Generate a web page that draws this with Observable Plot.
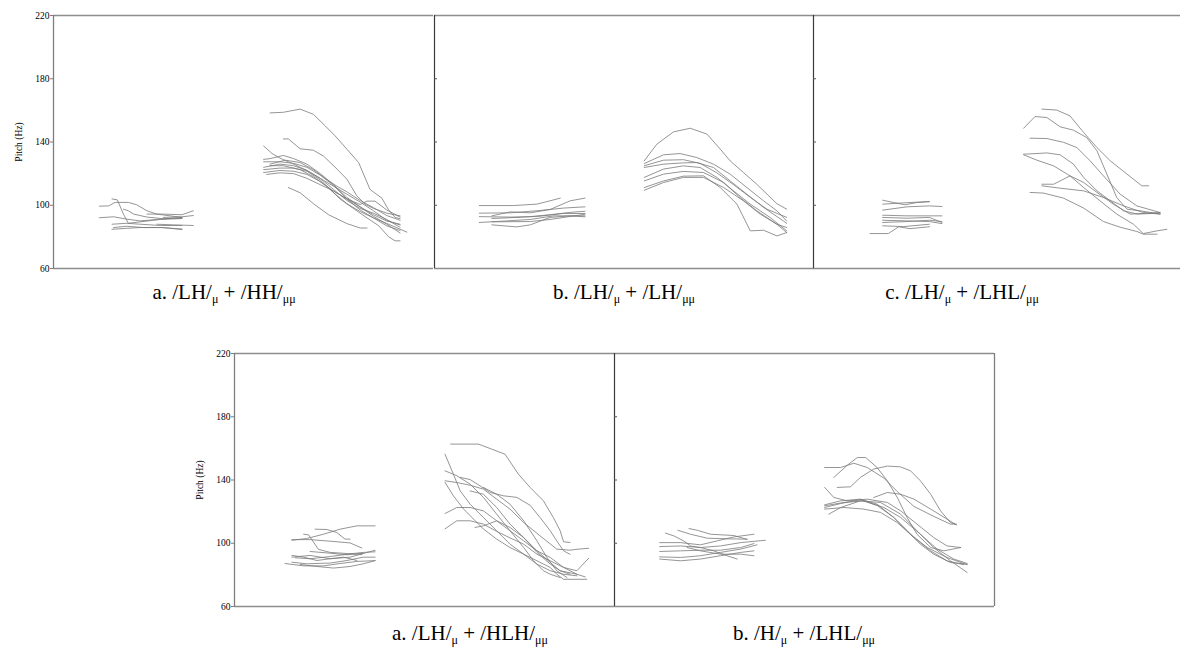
<!DOCTYPE html>
<html><head><meta charset="utf-8">
<script src="https://cdn.jsdelivr.net/npm/d3@7"></script>
<script src="https://cdn.jsdelivr.net/npm/@observablehq/plot@0.6"></script>
<style>
body{margin:0;background:#fff;}
#page{position:relative;width:1180px;height:660px;overflow:hidden;background:#fff;font-family:"Liberation Serif","Times New Roman",serif;}
.panel{position:absolute;}
.cap{position:absolute;font-size:21px;white-space:nowrap;transform:translateX(-50%);color:#000;line-height:24px;}
.cap sub{font-size:12px;vertical-align:-4px;line-height:0;}
</style></head><body><div id="page"></div>
<script>
// ---- axis ----
const yTicks = [60, 100, 140, 180, 220];
const yLabel = "Pitch (Hz)";

// ---- captions ----
const captionsTop = [
  ["a. /LH/", "μ", " + /HH/", "μμ"],
  ["b. /LH/", "μ", " + /LH/", "μμ"],
  ["c. /LH/", "μ", " + /LHL/", "μμ"]
];
const captionsBottom = [
  ["a. /LH/", "μ", " + /HLH/", "μμ"],
  ["b. /H/", "μ", " + /LHL/", "μμ"]
];

// ---- data: each contour = list of [normalized time, pitch Hz] ----
const topA_first = [
  [[12.1,99.4],[14.5,99.6],[16.2,101.8],[19.7,101.8],[21.9,100.3],[24.6,96.5],[27.2,94.4],[30.7,93.3],[33.8,92.3]],
  [[15.4,104],[16.8,103.4],[18.4,94.4],[19.7,88.6],[22.8,89.5],[28.1,91],[33.8,91.6]],
  [[12.1,92.1],[15.8,92.7],[19.3,91.2],[22.8,90.1],[28.1,91.2],[33.8,92.3]],
  [[18.4,97.5],[19.7,96.5],[21.1,94.4],[24.6,92.5],[28.9,91.5],[33.8,91.8]],
  [[15.4,88],[19.3,88.6],[22.8,88],[28.1,87.2],[33.8,87.2]],
  [[15.8,85.9],[19.3,86.7],[23.7,85.9],[28.9,85.9],[33.8,84.6]],
  [[15.4,84.8],[19.3,85.4],[22.8,85.9],[28.1,85.9],[33.8,85.0]],
  [[24.6,94.4],[28.9,94.4],[33.8,94],[36.8,96.5]],
  [[28.9,92.3],[33.8,92.7],[36.8,93.5]],
  [[27.2,88],[31.6,87.6],[36.8,87.2]]
];
const topA_second = [
  [[57.0,158.4],[60.5,158.8],[64.9,160.8],[68.4,157.5],[71.5,150.2],[74.1,143.9],[77.2,135.5],[80.3,127],[83.3,110],[86.4,104.5],[88.2,97],[89.9,92.3],[91.2,91.5]],
  [[60.5,141.9],[61.8,142],[64.9,135.7],[68.4,134.8],[71.1,131],[74.6,122.9],[77.2,116.5],[79.8,106],[82.0,100.7],[84.2,98],[87.7,95],[91.2,93.3]],
  [[55.3,137.5],[57.5,132.7],[59.6,129.8],[63.2,126],[66.7,122],[70.2,117],[73.7,112],[77.2,107],[80.7,102],[84.2,96.5],[87.7,90.5],[91.2,87.5]],
  [[55.3,129],[57.0,129.5],[60.5,131.5],[63.2,129.5],[66.7,126],[70.2,120],[73.7,113],[77.2,105],[80.7,99],[84.2,94],[87.7,90],[91.2,88]],
  [[55.3,127.5],[59.6,127.5],[63.2,126.5],[66.7,124],[70.2,119],[73.7,112.5],[77.2,104],[80.7,97],[84.2,92],[87.7,88.5],[93.0,83]],
  [[55.3,124],[59.6,126],[63.2,125],[66.7,122],[70.2,117],[73.7,110],[77.2,103],[80.7,98],[84.2,95],[87.7,91],[91.2,86]],
  [[55.3,122.5],[59.6,123.5],[63.2,123.5],[66.7,121.5],[70.2,116],[73.7,108],[77.2,101],[80.7,96],[84.2,92],[87.7,87],[91.2,84]],
  [[55.3,120.7],[59.6,122],[63.2,121.5],[66.7,119.5],[70.2,115],[73.7,109],[77.2,104],[80.7,100.5],[82.5,102.6],[84.6,102.6],[87.7,97],[91.2,92.5]],
  [[56.1,119.5],[59.6,120.5],[63.2,120],[66.7,117],[70.2,113],[73.7,109],[77.2,104],[80.7,99],[84.2,93],[87.7,88],[91.2,82.5]],
  [[57.0,125],[60.5,125],[64.9,122.5],[68.4,118],[72.4,111],[75.4,104],[78.9,98],[82.5,92],[85.6,87],[88.2,80],[89.9,77.5],[91.2,77.5]],
  [[61.8,111.2],[64.9,107.9],[68.4,101],[72.4,94],[77.2,88.4],[80.7,85.6],[82.5,85.6]],
  [[57.0,126],[61.0,128.5],[64.9,127],[68.4,122.5],[71.5,117],[74.6,112],[77.2,108.5],[80.7,103],[84.2,98.5],[87.7,93.5],[91.2,90.5]]
];
const topB_first = [
  [[11.8,99.8],[20.8,99.8],[26.9,100.7],[30.4,102.8],[33.1,104.5]],
  [[15.1,93.3],[19.9,95.8],[25.2,95.2],[30.4,97.3],[35.7,102.8],[39.6,104.5]],
  [[11.8,95],[19.9,95.2],[26.9,96.5],[33.9,98.2],[39.6,99]],
  [[11.8,89.1],[19.0,90.1],[25.2,91],[31.3,93.3],[39.6,93.3]],
  [[15.1,87.6],[21.7,86.3],[25.2,87.6],[30.4,92.3],[35.7,93.3],[39.6,92.7]],
  [[15.1,91.6],[21.7,92.3],[27.8,93.1],[33.9,94.8],[39.6,94.8]],
  [[11.8,92.8],[19.9,92.5],[25.2,92.8],[30.4,94],[35.7,95.5],[39.6,96.2]],
  [[15.1,89.5],[25.2,89.7],[30.4,91],[39.6,94.3]]
];
const topB_second = [
  [[55.2,128.1],[58.5,138.6],[62.9,146.4],[67.3,148.7],[71.7,145],[75.2,135.5],[77.8,128.1],[81.3,120.7],[84.8,113.3],[87.5,107],[90.1,101],[92.7,97.5]],
  [[55.2,126.4],[60.3,131.9],[64.6,132.7],[69.0,130.2],[73.4,126],[77.8,119.7],[82.2,111.2],[86.6,102.8],[90.1,96.5],[92.7,90]],
  [[55.2,123.9],[60.3,126],[65.5,126.8],[69.0,127],[73.4,123.9],[77.8,115.4],[82.2,107],[86.6,98.6],[91.8,90.1],[92.7,88.5]],
  [[55.2,117.6],[60.3,122.9],[65.5,124.9],[69.9,123.9],[74.3,117.6],[78.7,109.1],[83.1,100.7],[88.3,92.3],[92.7,83.8]],
  [[55.2,115.4],[60.3,119.7],[65.5,121.4],[70.8,120.7],[76.1,114.4],[80.4,104.9],[84.8,96.5],[90.1,88],[92.7,82.7]],
  [[55.2,111.2],[60.3,115.4],[65.5,118.4],[70.8,118.6],[75.2,111.2],[79.6,100.7],[83.1,83.8],[86.6,84.2],[90.1,80.6],[92.7,82.7]],
  [[55.2,109.5],[60.3,114.4],[65.5,117.6],[70.8,117.6],[76.1,111.2],[81.3,102.8],[85.7,94.4],[90.1,88],[92.7,85.9]],
  [[55.2,125],[60.3,128.5],[65.5,128.8],[69.9,126.5],[74.3,120.5],[78.7,113],[83.1,105],[87.5,97.5],[92.7,92.3]]
];
const topC_first = [
  [[14.9,82.1],[19.7,82.1],[22.4,86.4],[25.4,85.2],[30.5,86.4]],
  [[18.2,103.2],[21.1,101.7],[24.1,100.3],[27.2,101.7],[30.5,102.2]],
  [[18.2,100.7],[23.7,101.5],[30.5,102.4]],
  [[18.2,96.9],[24.6,99],[30.5,99.6],[33.8,99.2]],
  [[18.2,93.7],[24.6,93.3],[30.5,93.3],[33.8,93.3]],
  [[18.2,92.3],[24.6,91.8],[30.5,92.3],[33.8,89.1]],
  [[18.2,90.5],[24.6,90.1],[30.5,89.7],[33.8,88.4]],
  [[18.2,89.1],[24.6,89.7],[30.5,90.5],[33.8,89.7]],
  [[18.2,87.0],[23.7,86.5],[30.5,88]]
];
const topC_second = [
  [[60.1,160.8],[64.0,160.2],[67.5,156.5],[71.1,146],[74.6,136.5],[78.1,128.1],[82.5,119.7],[86.4,112.3],[88.2,112.3]],
  [[55.3,148.7],[58.3,156.1],[61.4,155.5],[64.9,149.6],[68.4,147.5],[71.9,142.8],[74.6,134.4],[77.2,119.7],[79.8,104.9],[82.5,97.5],[86.0,96.5],[91.2,94.4]],
  [[57.0,142.4],[61.4,142.2],[65.8,139.8],[69.3,136.5],[72.8,128.1],[76.3,118.6],[80.7,107],[85.1,99.6],[91.2,95.4]],
  [[55.3,132.3],[58.8,132.7],[61.4,133.1],[64.9,131.9],[68.4,126],[71.1,117.6],[74.6,109.1],[78.1,102.8],[81.6,96.5],[85.1,94.4],[91.2,95]],
  [[55.3,131.9],[58.8,128.5],[63.2,124.9],[67.5,118.6],[71.1,111.2],[75.4,102.8],[79.8,94.4],[84.2,88],[86.8,82.1],[90.4,83.8],[93.0,84.8]],
  [[60.1,113.3],[63.2,113.3],[67.5,118.6],[71.1,114.4],[74.6,108.1],[78.9,100.7],[83.3,94.4],[91.2,95.4]],
  [[60.1,112.3],[64.9,110.8],[71.1,109.1],[76.3,104.9],[81.6,99.6],[86.8,95.4],[91.2,94.4]],
  [[57.0,108.1],[60.5,107.7],[65.8,104.5],[71.1,98.2],[76.3,89.7],[80.7,86.1],[85.1,83.4],[86.8,81.7],[90.4,81.7]]
];
const bottomA_first = [
  [[13.3,87.2],[18.2,85.7],[23.4,85.7],[27.8,87.2],[32.2,88.5],[37.0,89]],
  [[15.1,91.2],[19.9,92.3],[25.2,90.2],[30.4,91.2],[37.0,95.6]],
  [[15.1,101.9],[19.0,103],[23.4,105.7],[27.8,108.9],[32.2,111],[37.0,111]],
  [[18.2,105.7],[19.5,105.3],[22.1,96.1],[25.2,94.2],[29.6,93.5],[33.5,92.8]],
  [[15.1,102.3],[19.9,102.3],[25.2,101.3],[30.4,100.2],[33.5,97]],
  [[21.2,108.9],[24.3,108.7],[26.9,106.8],[29.1,102.6],[30.4,102.6]],
  [[15.1,92.3],[18.2,91.2],[21.7,89.1],[25.2,90.2],[28.7,91.2],[32.2,89.1]],
  [[16.0,90.8],[19.9,90.2],[25.2,91.6],[30.4,93.3],[33.9,94.2],[37.0,94.6]],
  [[19.9,94.8],[25.2,93.7],[29.6,92.7],[33.9,93.7]],
  [[15.1,88],[19.0,87],[25.2,87.5],[29.6,89.1],[33.9,91.2],[37.0,91.2]],
  [[17.3,86.6],[21.7,85.3],[26.1,84.3],[30.4,85.3],[33.9,87],[37.0,89]]
];
const bottomA_second = [
  [[55.4,156.3],[57.6,143.7],[59.4,133.1],[62.0,124.7],[65.5,116.3],[69.0,107.9],[72.5,99.4],[76.1,93.1],[79.6,86.8],[83.1,82.6],[86.6,80.4],[90.1,79.4]],
  [[56.9,162.7],[64.2,162.7],[71.2,156.3],[74.7,143.7],[77.8,135.3],[81.3,126.8],[83.9,116.3],[85.7,107.9],[86.6,100.9],[88.3,100.5]],
  [[55.4,145.8],[58.5,142.7],[62.0,137.4],[65.5,129],[69.0,118.4],[72.5,107.9],[76.1,97.3],[78.7,88.9],[81.3,82.6],[83.1,80.4],[85.7,78.3]],
  [[55.4,139.5],[58.5,138.4],[62.0,136.7],[65.5,134.2],[69.0,127.9],[72.5,121.6],[76.1,113.1],[80.4,104.7],[84.8,96.3],[88.3,95.6],[90.1,96.2],[93.2,96.8]],
  [[59.4,141.6],[62.0,140.3],[64.6,136.3],[67.3,132.1],[70.8,130],[74.3,129],[77.8,124],[80.4,116.3],[83.1,107.9],[84.8,101.5],[86.6,95.2],[88.3,93]],
  [[55.4,118.8],[58.5,122.6],[62.0,122.6],[65.5,120.5],[69.0,114.2],[72.5,107.9],[76.1,101.5],[79.6,95.2],[83.1,91],[86.6,84.7],[90.1,80.4],[92.3,78.7]],
  [[55.4,109.1],[58.5,114.2],[62.0,114.2],[65.5,112.1],[69.0,107.5],[72.5,103.4],[76.1,99.4],[79.6,93.1],[83.1,88.9],[86.6,84.7],[90.1,82.6],[93.2,90.5]],
  [[55.4,138.5],[57.6,130],[60.3,121.6],[62.9,115.3],[65.5,109],[69.0,102.6],[72.5,97.3],[76.1,93.1],[79.6,88.9],[83.1,84.7],[84.8,80.4],[86.6,77.2],[92.7,77.2]],
  [[63.3,110],[65.5,111],[69.0,114.2],[72.5,110],[76.1,103.6],[79.6,95.2],[83.1,87.8],[85.7,82.6],[88.3,80.4]],
  [[62.0,133.1],[65.5,131],[69.0,122.6],[72.5,112.1],[76.1,103.6],[79.6,94.2],[83.1,86.8],[85.7,82.6],[90.1,80.4]],
  [[65.5,135.3],[69.0,131],[72.5,124.7],[76.1,114.2],[79.6,101.5],[82.2,91],[84.8,82.6],[87.5,78.3]]
];
const bottomB_first = [
  [[13.4,106.4],[15.6,104.7],[18.2,101.5],[20.0,98.3],[22.6,97.3],[26.1,95.2],[29.6,92.1],[32.3,90]],
  [[19.6,109.3],[21.8,108.2],[25.3,105.7],[31.4,104.9],[34.9,102.4]],
  [[16.7,108.2],[20.0,105.7],[24.4,103.2],[29.6,102.8],[34.9,102.6]],
  [[11.9,100.4],[17.4,100.4],[22.6,99],[27.0,101.5],[31.4,104],[36.7,105.7]],
  [[11.9,97.9],[17.4,98.3],[22.6,97.3],[27.9,98.3],[33.2,100.4],[39.7,101.9]],
  [[11.9,94.8],[17.4,95.2],[22.6,95.6],[27.9,95.6],[33.2,97.3],[36.7,99.8]],
  [[11.9,91.4],[17.4,91],[22.6,92.1],[27.9,94.2],[33.2,96.3],[37.5,99]],
  [[11.9,90],[17.4,88.9],[22.6,90],[27.9,92.1],[33.2,94.2],[36.7,95.2]],
  [[19.1,97.3],[22.6,95.2],[27.9,93.1],[33.2,93.1],[36.7,92.1]]
];
const bottomB_second = [
  [[55.3,147.9],[59.5,147.9],[63.0,150.6],[66.5,147.9],[70.9,141.2],[74.4,132.7],[78.8,123.3],[84.0,117],[88.4,112.1],[90.0,112.1]],
  [[57.7,141.6],[61.2,149.2],[63.9,154.2],[66.1,154.2],[69.1,147.9],[71.8,139.5],[74.4,129],[77.0,116.3],[79.6,105.7],[83.2,97.3],[86.7,95.2],[91.1,97.3]],
  [[58.6,135.3],[62.1,135.7],[64.7,141.6],[68.2,146.9],[71.8,148.8],[75.3,148.3],[77.9,145.8],[80.5,139.5],[83.2,131],[85.8,120.5],[88.4,113.1],[89.7,112.1]],
  [[55.3,135.3],[57.7,129],[61.2,126.8],[66.5,127.9],[71.8,125.8],[75.3,120.5],[79.6,112.1],[84.0,103.6],[87.5,98.3],[91.1,97.3]],
  [[68.2,128.9],[71.8,132.1],[75.3,131],[78.8,127.9],[83.2,121.6],[87.5,115.3],[90.0,111.5]],
  [[55.3,124.3],[59.5,126.8],[64.7,127.9],[69.1,124.7],[73.5,116.3],[77.9,105.7],[82.3,97.3],[87.5,91],[92.8,86.4]],
  [[55.3,122.6],[59.5,125.1],[64.7,127.5],[69.1,123.9],[73.5,116.3],[77.0,107.9],[80.5,99.4],[84.0,93.1],[88.4,87.8],[92.8,86.8]],
  [[56.4,118.4],[59.5,122.6],[64.7,126.8],[70.0,125.8],[75.3,118.4],[79.6,107.9],[84.0,97.3],[88.4,88.9],[92.8,81.5]],
  [[55.3,121.6],[60.4,122.6],[65.6,121.6],[70.0,119.5],[74.4,113.1],[78.8,103.6],[83.2,95.2],[87.5,88.9],[91.9,86.4]],
  [[55.3,123.7],[60.4,125.8],[65.6,126.8],[70.9,122.6],[75.3,116.3],[80.5,105.7],[84.9,96.3],[89.3,90],[92.8,87.2]]
];

// ---- rendering ----
const page = document.getElementById("page");
const PW = 380, PH = 253;

function toRows(groups) {
  const rows = [];
  groups.forEach((g, gi) => g.forEach((line, li) => line.forEach(([t, hz]) => rows.push({id: gi + "-" + li, t, hz}))));
  return rows;
}

function panel({groups, plotLeft, plotTop, withAxis, rightBorder}) {
  const mL = withAxis ? 54 : 0, mT = 8, mB = 8, mR = 2;
  const rows = toRows(groups);
  const marks = [
    Plot.ruleY([60, 220], {stroke: "#8d8d8d", strokeWidth: 1.3}),
    Plot.line(rows, {x: "t", y: "hz", z: "id", stroke: "#7a7a7a", strokeWidth: 0.8}),
    Plot.ruleX([0], {stroke: withAxis ? "#7d7d7d" : "#3a3a3a", strokeWidth: withAxis ? 1.3 : 1.2})
  ];
  if (rightBorder) marks.push(Plot.ruleX([100], {stroke: "#7d7d7d", strokeWidth: 1.3}));
  if (withAxis) {
    marks.push(Plot.axisY({ticks: yTicks, tickSize: 3, tickPadding: 1, fontSize: 9.5, stroke: "#7d7d7d",
      label: yLabel, labelAnchor: "center", labelArrow: "none", labelOffset: 38, color: "#000"}));
  } else {
    marks.push(Plot.ruleY(yTicks.slice(1, -1), {x1: 0, x2: 0.8, stroke: "#555"}));
  }
  const svg = Plot.plot({
    width: mL + PW + mR, height: mT + PH + mB,
    marginLeft: mL, marginRight: mR, marginTop: mT, marginBottom: mB,
    x: {domain: [0, 100], axis: null},
    y: {domain: [60, 220], axis: null},
    style: {fontFamily: "'Liberation Serif','Times New Roman',serif", fontSize: "9.5px", background: "transparent", overflow: "visible", color: "#000"},
    marks
  });
  svg.classList.add("panel");
  svg.style.left = (plotLeft - mL) + "px";
  svg.style.top = (plotTop - mT) + "px";
  svg.style.position = "absolute";
  page.appendChild(svg);
}

function caption(parts, cx, top) {
  const d = document.createElement("div");
  d.className = "cap";
  d.style.left = cx + "px";
  d.style.top = top + "px";
  parts.forEach((p, i) => {
    if (i % 2 === 1) { const s = document.createElement("sub"); s.textContent = p; d.appendChild(s); }
    else d.appendChild(document.createTextNode(p));
  });
  page.appendChild(d);
}

panel({groups: [topA_first, topA_second], plotLeft: 53, plotTop: 15, withAxis: true});
panel({groups: [topB_first, topB_second], plotLeft: 434, plotTop: 15, withAxis: false});
panel({groups: [topC_first, topC_second], plotLeft: 813, plotTop: 15, withAxis: false, rightBorder: true});
panel({groups: [bottomA_first, bottomA_second], plotLeft: 234, plotTop: 353, withAxis: true});
panel({groups: [bottomB_first, bottomB_second], plotLeft: 614, plotTop: 353, withAxis: false, rightBorder: true});

caption(captionsTop[0], 224, 280);
caption(captionsTop[1], 624, 280);
caption(captionsTop[2], 962, 280);
caption(captionsBottom[0], 470, 621);
caption(captionsBottom[1], 804, 621);
</script></body></html>
